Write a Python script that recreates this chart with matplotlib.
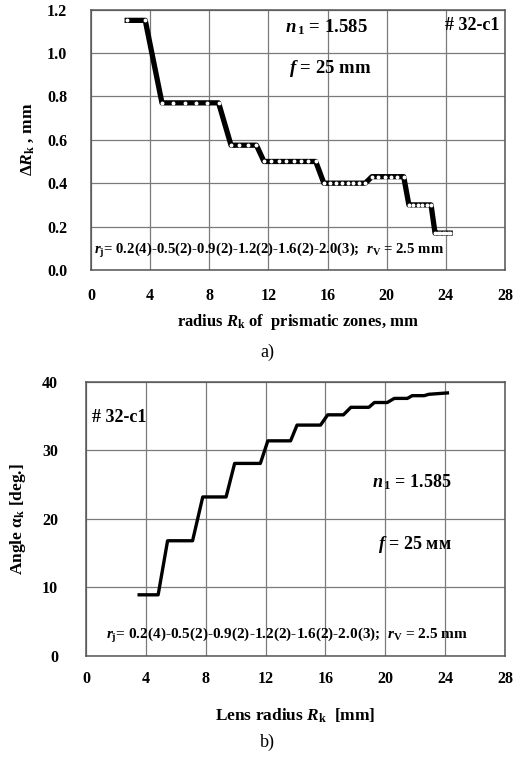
import matplotlib.pyplot as plt

plt.rcParams["font.family"] = ["Liberation Serif", "DejaVu Serif"]
plt.rcParams["font.weight"] = "bold"
plt.rcParams["axes.labelweight"] = "bold"
plt.rcParams["mathtext.fontset"] = "custom"
plt.rcParams["mathtext.rm"] = "Liberation Serif:bold"
plt.rcParams["mathtext.it"] = "Liberation Serif:bold:italic"
plt.rcParams["mathtext.bf"] = "Liberation Serif:bold"

# a) zone width vs zone radius
radio_zona = [2.45, 3.67,
              4.80, 5.56, 6.33, 7.10, 7.86, 8.63,
              9.47, 10.04, 10.62, 11.19,
              11.70, 12.20, 12.70, 13.20, 13.70, 14.20, 14.70, 15.20,
              15.75, 16.15, 16.55, 16.95, 17.35, 17.75, 18.15, 18.55,
              19.00, 19.43, 19.86, 20.29, 20.72, 21.15,
              21.50, 21.80, 22.10, 22.40, 22.70, 23.00,
              23.27, 23.44, 23.61, 23.78, 23.95, 24.12, 24.29]
ancho_zona = [1.15, 1.15,
              0.77, 0.77, 0.77, 0.77, 0.77, 0.77,
              0.575, 0.575, 0.575, 0.575,
              0.50, 0.50, 0.50, 0.50, 0.50, 0.50, 0.50, 0.50,
              0.40, 0.40, 0.40, 0.40, 0.40, 0.40, 0.40, 0.40,
              0.43, 0.43, 0.43, 0.43, 0.43, 0.43,
              0.30, 0.30, 0.30, 0.30, 0.30, 0.30,
              0.17, 0.17, 0.17, 0.17, 0.17, 0.17, 0.17]

# b) prism angle vs lens radius
radio_lente = [3.55, 4.82, 5.45, 7.12, 7.80, 9.36, 9.93, 11.65, 12.15, 13.67,
               14.10, 15.67, 16.15, 17.20, 17.70, 18.90, 19.27, 20.13, 20.60,
               21.47, 21.80, 22.60, 22.90, 24.15]
angulo = [8.9, 8.9, 16.8, 16.8, 23.2, 23.2, 28.1, 28.1, 31.4, 31.4,
          33.7, 33.7, 35.2, 35.2, 36.3, 36.3, 37.0, 37.0, 37.6,
          37.6, 38.0, 38.0, 38.2, 38.4]

x_ticks = [0, 4, 8, 12, 16, 20, 24, 28]
y_ticks_a = [0.0, 0.2, 0.4, 0.6, 0.8, 1.0, 1.2]
y_ticks_b = [0, 10, 20, 30, 40]

texto_rj = r"$r_{\rm j}$= 0.2(4)-0.5(2)-0.9(2)-1.2(2)-1.6(2)-2.0(3);  $r_{\rm V}$ = 2.5 mm"

fig = plt.figure(figsize=(5.22, 7.6), dpi=100)


def estilo(ax):
    ax.grid(True, color="#7a7a7a", linewidth=0.9)
    ax.set_axisbelow(True)
    for s in ax.spines.values():
        s.set_color("#555555")
        s.set_linewidth(1.1)
    ax.tick_params(length=0, labelsize=11.5)
    ax.set_xlim(0, 28)
    ax.set_xticks(x_ticks)


# ==============================
# a)
# ==============================
ax1 = fig.add_axes([0.1743, 0.6447, 0.7931, 0.3428])
estilo(ax1)
ax1.set_ylim(0, 1.2)
ax1.set_yticks(y_ticks_a)
ax1.set_yticklabels([f"{v:.1f}" for v in y_ticks_a])
ax1.tick_params(axis="y", pad=17)
ax1.tick_params(axis="x", pad=13)
ax1.plot(radio_zona, ancho_zona, color="black", linewidth=3.8,
         marker="o", markersize=2.8, markerfacecolor="white",
         markeredgewidth=0)
ax1.set_xlabel(r"radius $R_{\rm k}$ of  prismatic zones, mm", fontsize=12, labelpad=6)
ax1.set_ylabel(r"$\Delta R_{\rm k}$ , mm", fontsize=12.5, labelpad=8)
ax1.text(15.9, 1.12, r"$n_{\,\rm 1}$ = 1.585", fontsize=13.5, ha="center", va="center")
ax1.text(16.2, 0.93, r"$f$ = 25 mm", fontsize=13.5, ha="center", va="center")
ax1.text(25.8, 1.125, "# 32-c1", fontsize=13, ha="center", va="center")
ax1.text(12.07, 0.092, texto_rj, fontsize=10.6, ha="center", va="center")
fig.text(267 / 522, 1 - 352 / 760, "a)", fontsize=13, fontweight="normal",
         ha="center", va="center")

# ==============================
# b)
# ==============================
ax2 = fig.add_axes([0.1648, 0.1372, 0.8027, 0.3602])
estilo(ax2)
ax2.set_ylim(0, 40)
ax2.set_yticks(y_ticks_b)
ax2.tick_params(axis="y", pad=20)
ax2.tick_params(axis="x", pad=11)
ax2.plot(radio_lente, angulo, color="black", linewidth=2.4)
ax2.set_xlabel(r"Lens radius $R_{\rm k}$  [mm]", fontsize=12.5, labelpad=14)
ax2.set_ylabel(r"Angle α$_{\rm k}$ [deg.]", fontsize=12.5, labelpad=10)
ax2.text(0.4, 34.8, "# 32-c1", fontsize=13, ha="left", va="center")
ax2.text(21.8, 25.4, r"$n_{\,\rm 1}$ = 1.585", fontsize=13, ha="center", va="center")
ax2.text(22.0, 16.2, r"$f$ = 25 мм", fontsize=13, ha="center", va="center")
ax2.text(13.4, 3.0, texto_rj, fontsize=11, ha="center", va="center")
fig.text(267 / 522, 1 - 742 / 760, "b)", fontsize=13, fontweight="normal",
         ha="center", va="center")

fig.savefig("out.png", dpi=100)
